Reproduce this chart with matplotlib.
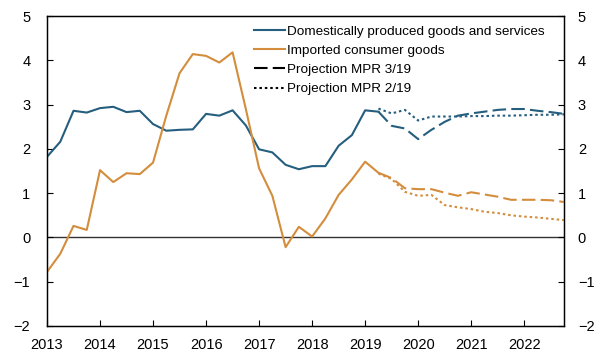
import matplotlib
matplotlib.use("Agg")
import matplotlib.pyplot as plt
import numpy as np
from matplotlib.lines import Line2D

plt.rcParams["font.family"] = ["Liberation Sans", "DejaVu Sans"]

# quarterly series, four-quarter change in percent
quarters = np.arange(2013.0, 2019.5, 0.25)
domestic = [1.82, 2.16, 2.86, 2.82, 2.92, 2.95, 2.83, 2.86,
            2.56, 2.41, 2.43, 2.44, 2.79, 2.75, 2.87, 2.53,
            1.99, 1.92, 1.64, 1.54, 1.61, 1.61, 2.07, 2.31,
            2.87, 2.84]
imported = [-0.78, -0.37, 0.26, 0.17, 1.52, 1.25, 1.45, 1.43,
            1.69, 2.75, 3.71, 4.14, 4.10, 3.95, 4.18, 2.90,
            1.56, 0.94, -0.22, 0.24, 0.02, 0.43, 0.96, 1.31,
            1.71, 1.46]

proj_quarters = np.arange(2019.25, 2023.0, 0.25)
domestic_mpr319 = [2.84, 2.52, 2.46, 2.22, 2.43, 2.61, 2.75, 2.80,
                   2.84, 2.88, 2.90, 2.90, 2.86, 2.83, 2.79]
domestic_mpr219 = [2.91, 2.80, 2.88, 2.64, 2.73, 2.73, 2.73, 2.74,
                   2.74, 2.75, 2.75, 2.76, 2.77, 2.77, 2.78]
imported_mpr319 = [1.46, 1.34, 1.11, 1.09, 1.09, 1.01, 0.94, 1.02,
                   0.97, 0.92, 0.85, 0.85, 0.85, 0.84, 0.80]
imported_mpr219 = [1.44, 1.32, 1.03, 0.94, 0.96, 0.73, 0.68, 0.64,
                   0.58, 0.55, 0.50, 0.47, 0.45, 0.42, 0.39]

years = list(range(2013, 2023))
y_ticks = list(range(-2, 6))
y_labels = [str(v).replace("-", "\u2212") for v in y_ticks]

BLUE = "#255e7e"
ORANGE = "#d38d3c"
LW = 1.5
DASH = (6.5, 2.5)
DOT = (1.2, 1.4)

fig = plt.figure(figsize=(6.01, 3.56), dpi=100)
ax = fig.add_axes([0.0782, 0.0843, 0.8602, 0.8707])

ax.axhline(0, color="#333333", lw=1.0, zorder=1)

ax.plot(quarters, domestic, color=BLUE, lw=LW, zorder=3)
ax.plot(quarters, imported, color=ORANGE, lw=LW, zorder=3)
ax.plot(proj_quarters, domestic_mpr219, color=BLUE, lw=LW, dashes=DOT, zorder=3)
ax.plot(proj_quarters, imported_mpr219, color=ORANGE, lw=LW, dashes=DOT, zorder=3)
ax.plot(proj_quarters, domestic_mpr319, color=BLUE, lw=LW, dashes=DASH, zorder=3)
ax.plot(proj_quarters, imported_mpr319, color=ORANGE, lw=LW, dashes=DASH, zorder=3)

ax.set_xlim(2013.0, 2022.75)
ax.set_ylim(-2, 5)
ax.set_xticks(years)
ax.set_xticklabels([str(y) for y in years], fontsize=10.5)
ax.set_yticks(y_ticks)
ax.set_yticklabels(y_labels, fontsize=10.5)
ax.tick_params(axis="both", direction="in", length=4, width=0.8)
ax.tick_params(axis="y", pad=12)
ax.tick_params(axis="x", pad=9)

ax2 = ax.twinx()
ax2.set_ylim(-2, 5)
ax2.set_yticks(y_ticks)
ax2.set_yticklabels(y_labels, fontsize=10.5)
ax2.tick_params(axis="y", direction="in", length=4, width=0.8, pad=10)

for a in (ax, ax2):
    for s in a.spines.values():
        s.set_linewidth(0.9)
        s.set_color("black")

handles = [
    Line2D([], [], color=BLUE, lw=LW),
    Line2D([], [], color=ORANGE, lw=LW),
    Line2D([], [], color="black", lw=LW, dashes=DASH),
    Line2D([], [], color="black", lw=LW, dashes=DOT),
]
labels = [
    "Domestically produced goods and services",
    "Imported consumer goods",
    "Projection MPR 3/19",
    "Projection MPR 2/19",
]
ax.legend(handles, labels, loc="upper left", bbox_to_anchor=(0.4, 0.97),
          frameon=False, fontsize=9.7, handlelength=2.3, handletextpad=0.15,
          labelspacing=0.5, borderaxespad=0, borderpad=0)

fig.savefig("out.png", dpi=100)
